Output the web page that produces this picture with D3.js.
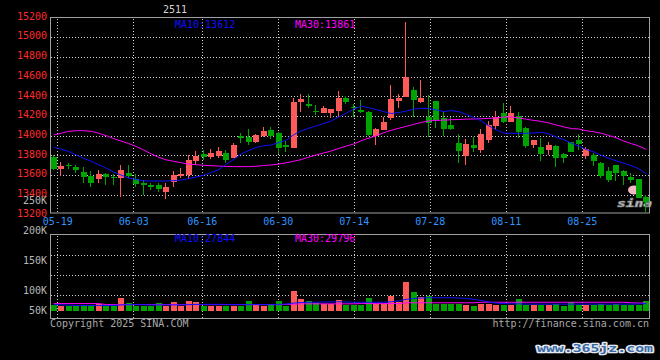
<!DOCTYPE html>
<html>
<head>
<meta charset="utf-8">
<script src="https://cdn.jsdelivr.net/npm/d3@7/dist/d3.min.js"></script>
<style>
body { margin: 0; background: #000; }
svg { display: block; }
text { font-family: "DejaVu Sans Mono", monospace; font-size: 10px; }
</style>
</head>
<body>
<svg id="chart" width="660" height="360"></svg>
<script>
"use strict";

// daily candles, 05-16 .. 09-05
var openP  = [13787,13659,13698,13686,13635,13591,13560,13611,13584,13567,13618,13560,13523,13500,13500,13432,13533,13591,13601,13747,
              13814,13780,13794,13821,13777,13997,13990,13933,14000,14058,14031,13906,13879,14346,14318,14254,14227,14234,14254,14386,
              14295,14261,14237,14000,14058,14183,14352,14396,14464,14339,14193,14352,14176,14109,13926,13797,13906,13855,13956,14100,
              14227,14143,14203,14075,13906,13889,13855,13899,13814,13933,13956,13797,13804,13720,13642,13703,13642,13584,13560,13381];
var highP  = [13804,13736,13726,13702,13686,13642,13652,13625,13611,13703,13703,13611,13550,13523,13517,13517,13645,13669,13804,13845,
              13855,13862,13889,13855,13923,14024,14068,14017,14092,14092,14041,13946,14386,14420,14420,14312,14305,14271,14454,14403,
              14318,14362,14251,14075,14193,14515,14420,15158,14498,14566,14413,14352,14244,14193,14014,13967,13990,14068,14149,14251,
              14329,14302,14237,14092,13956,13980,13939,13906,13821,13939,14014,13889,13821,13736,13686,13703,13652,13618,13560,13398];
var lowP   = [13652,13591,13659,13618,13517,13476,13517,13500,13500,13381,13567,13476,13398,13449,13432,13354,13483,13567,13557,13703,
              13753,13760,13770,13720,13770,13923,13906,13923,13990,13967,13811,13831,13872,14244,14278,14210,14227,14176,14193,14318,
              14193,14227,14000,13906,14058,14159,14285,14396,14193,14329,13990,14075,14000,14058,13720,13703,13838,13821,13923,14058,
              14126,14143,13973,13872,13872,13747,13804,13686,13726,13831,13855,13763,13692,13567,13527,13540,13500,13516,13364,13229];
var closeP = [13662,13696,13694,13652,13584,13517,13611,13577,13567,13652,13594,13510,13496,13476,13459,13476,13601,13611,13753,13794,
              13787,13828,13845,13753,13906,13980,13940,14007,14048,13997,13872,13889,14346,14373,14305,14244,14285,14271,14379,14346,
              14285,14244,14007,14068,14136,14373,14379,14599,14362,14386,14126,14159,14068,14068,13845,13916,13879,14017,14109,14193,
              14143,14227,14041,13899,13956,13814,13906,13777,13770,13838,13916,13865,13743,13594,13550,13625,13594,13550,13371,13324];
var ma10   = [13882,13862,13840,13805,13770,13740,13705,13670,13630,13600,13570,13555,13542,13540,13540,13540,13544,13550,13565,13580,
              13600,13625,13655,13710,13760,13815,13850,13880,13898,13906,13930,13955,14010,14050,14075,14100,14125,14150,14190,14230,
              14270,14300,14285,14265,14245,14225,14235,14250,14270,14278,14275,14262,14245,14254,14245,14215,14185,14150,14100,14060,
              14026,14024,14024,14024,14028,14034,14020,13985,13960,13925,13895,13860,13835,13800,13770,13745,13720,13695,13665,13612];
var ma30   = [14007,14025,14045,14051,14051,14045,14025,14000,13970,13945,13920,13890,13855,13815,13780,13755,13740,13725,13712,13705,
              13700,13695,13692,13688,13686,13686,13686,13690,13697,13703,13712,13725,13740,13758,13782,13805,13825,13845,13870,13895,
              13915,13950,13975,14000,14030,14055,14075,14095,14115,14135,14150,14155,14158,14162,14165,14168,14170,14172,14176,14180,
              14190,14190,14180,14168,14155,14145,14130,14108,14090,14072,14068,14050,14040,14025,14002,13980,13945,13920,13895,13861];

// volume, thousands
var vol    = [22,20,18,18,24,24,26,18,18,48,29,18,18,18,29,18,33,18,37,33,
              18,18,18,18,18,18,37,21,18,25,37,18,74,44,37,30,28,25,40,21,
              21,21,49,28,28,55,34,109,72,53,55,28,28,28,25,21,18,28,28,21,
              21,21,44,21,21,21,21,25,18,34,21,21,21,28,21,28,21,21,21,37];
var vma10  = [24,23,22,21,21,21,21,21,21,23,24,24,24,23,23,23,23,23,24,25,
              25,25,25,25,24,24,24,24,24,24,25,26,30,32,33,33,34,34,35,34,
              33,33,33,33,33,35,38,44,47,49,50,50,50,50,49,47,44,40,34,30,
              28,27,27,26,26,26,26,26,26,26,26,26,26,26,26,26,26,26,27,27.8];
var vma30  = [28,28,28,28,28,28,28,24,24,24,24,24,24,24,24,24,24,24,24,24,
              24,24,24,24,24,24,24,24,24,24,24,25,26,27,27,27,27,27,27,27,
              27,28,28,28,28,28,28,31,31,31,31,31,31,31,31,31,31,33,33,33,
              33,33,33,33,33,33,33,33,33,33,33,33,33,33,33,33,33,31,30,29.8];

var priceTicks = [15200,15000,14800,14600,14400,14200,14000,13800,13600,13400,13200];
var volTicks = [250,200,150,100,50];
var tickIdx = [1,11,20,30,40,50,60,70];
var tickDates = ["05-19","06-03","06-16","06-30","07-14","07-28","08-11","08-25"];

var UP = "#ff5a5a", DOWN = "#00a400", GRID = "#d0d0d0", FRAME = "#a0a0a0";

function crisp(v) {
	return Math.round(v) + 0.5;
}

function drawAxisText(g, color) {
	g.select(".domain").remove();
	g.attr("font-family", "DejaVu Sans Mono, monospace").attr("font-size", 10);
	g.selectAll("text").attr("fill", color);
}

function drawChart() {
	var svg = d3.select("#chart");
	svg.append("rect").attr("width", 660).attr("height", 360).attr("fill", "#000");

	var n = openP.length;
	var xb = d3.scaleBand().domain(d3.range(n)).range([50, 650]).paddingInner(0.25).paddingOuter(0.125);
	var xg = d3.scaleLinear().domain([0, 79]).range([49.7, 650.1]);
	var yp = d3.scaleLinear().domain([13200, 15200]).range([214.5, 17.5]);
	var yv = d3.scaleLinear().domain([0, 300]).range([311, 231.5]);
	var yvLab = d3.scaleLinear().domain([250, 200, 100, 50]).range([200.5, 230.5, 290.5, 310.5]);
	var yvGrid = d3.scaleLinear().domain([0, 4]).range([315, 235]);
	var bw = Math.round(xb.bandwidth());

	// grids
	var grid = svg.append("g").attr("stroke", GRID).attr("stroke-dasharray", "1,2");
	grid.selectAll(".hp").data(priceTicks.slice(1, -1)).enter().append("line")
		.attr("x1", 51).attr("x2", 649).attr("y1", function(d) { return crisp(yp(d)); }).attr("y2", function(d) { return crisp(yp(d)); });
	grid.selectAll(".hv").data([1, 2, 3]).enter().append("line")
		.attr("x1", 51).attr("x2", 649).attr("y1", function(d) { return crisp(yvGrid(d)); }).attr("y2", function(d) { return crisp(yvGrid(d)); });
	grid.selectAll(".vp").data(tickIdx).enter().append("line")
		.attr("x1", function(d) { return crisp(xg(d)); }).attr("x2", function(d) { return crisp(xg(d)); }).attr("y1", 19).attr("y2", 213);
	grid.selectAll(".vv").data(tickIdx).enter().append("line")
		.attr("x1", function(d) { return crisp(xg(d)); }).attr("x2", function(d) { return crisp(xg(d)); }).attr("y1", 236).attr("y2", 320);

	// frames
	svg.append("rect").attr("x", 50.5).attr("y", 17.5).attr("width", 599).attr("height", 195.5)
		.attr("fill", "none").attr("stroke", FRAME);
	svg.append("rect").attr("x", 50.5).attr("y", 234.5).attr("width", 599).attr("height", 84)
		.attr("fill", "none").attr("stroke", FRAME);

	// sina logo under the candles
	svg.append("ellipse").attr("cx", 634).attr("cy", 190).attr("rx", 6).attr("ry", 4.5).attr("fill", "#f4b8c4");
	svg.append("text").attr("x", 617).attr("y", 207).text("sina")
		.attr("font-family", "DejaVu Sans, sans-serif").attr("font-size", 18).attr("font-weight", "bold")
		.attr("font-style", "italic").attr("textLength", 35).attr("lengthAdjust", "spacingAndGlyphs")
		.attr("fill", "#d8d8d8").attr("stroke", "#808080").attr("stroke-width", 0.7);

	// candles
	var candles = svg.append("g").selectAll("g").data(d3.range(n)).enter().append("g")
		.attr("fill", function(i) { return closeP[i] >= openP[i] ? UP : DOWN; })
		.attr("stroke", function(i) { return closeP[i] >= openP[i] ? UP : DOWN; });
	candles.append("line")
		.attr("x1", function(i) { return Math.round(xb(i)) + 2.5; })
		.attr("x2", function(i) { return Math.round(xb(i)) + 2.5; })
		.attr("y1", function(i) { return Math.round(yp(highP[i])); })
		.attr("y2", function(i) { return Math.round(yp(lowP[i])); });
	candles.append("rect").attr("stroke", "none")
		.attr("x", function(i) { return Math.round(xb(i)); })
		.attr("width", bw)
		.attr("y", function(i) { return Math.round(yp(Math.max(openP[i], closeP[i]))); })
		.attr("height", function(i) {
			return Math.max(1, Math.round(yp(Math.min(openP[i], closeP[i]))) - Math.round(yp(Math.max(openP[i], closeP[i]))));
		});

	// volume bars
	svg.append("g").selectAll("rect").data(vol).enter().append("rect")
		.attr("x", function(d, i) { return Math.round(xb(i)); })
		.attr("width", bw)
		.attr("y", function(d) { return Math.round(yv(d)); })
		.attr("height", function(d) { return Math.round(yv(0)) - Math.round(yv(d)); })
		.attr("fill", function(d, i) { return closeP[i] >= openP[i] ? UP : DOWN; });

	// moving averages
	var cx = function(d, i) { return xb(i) + xb.bandwidth() / 2; };
	var lineP = d3.line().x(cx).y(function(d) { return yp(d); });
	var lineV = d3.line().x(cx).y(function(d) { return yv(d); });
	svg.append("path").attr("d", lineP(ma30)).attr("fill", "none").attr("stroke", "#ff00ff");
	svg.append("path").attr("d", lineP(ma10)).attr("fill", "none").attr("stroke", "#1010ff");
	svg.append("path").attr("d", lineV(vma30)).attr("fill", "none").attr("stroke", "#ff00ff");
	svg.append("path").attr("d", lineV(vma10)).attr("fill", "none").attr("stroke", "#1010ff");

	// axes
	var gp = svg.append("g").attr("transform", "translate(47,-1.5)")
		.call(d3.axisLeft(yp).tickValues(priceTicks).tickSize(0).tickPadding(0).tickFormat(d3.format("d")));
	drawAxisText(gp, "#ff2a2a");
	var gv = svg.append("g").attr("transform", "translate(47,0)")
		.call(d3.axisLeft(yvLab).tickValues(volTicks).tickSize(0).tickPadding(0).tickFormat(function(d) { return d + "K"; }));
	drawAxisText(gv, "#b8b8b8");
	var gd = svg.append("g").attr("transform", "translate(0,217.5)")
		.call(d3.axisBottom(xg).tickValues(tickIdx).tickSize(0).tickPadding(0)
			.tickFormat(function(d) { return tickDates[tickIdx.indexOf(d)]; }));
	drawAxisText(gd, "#2f95ff");

	// labels
	svg.append("text").attr("x", 163).attr("y", 13).attr("fill", "#d4d4d4").text("2511");
	svg.append("text").attr("x", 175).attr("y", 27.5).attr("fill", "#1010ff").text("MA10:" + ma10[n - 1]);
	svg.append("text").attr("x", 295).attr("y", 27.5).attr("fill", "#ff00ff").text("MA30:" + ma30[n - 1]);
	svg.append("text").attr("x", 175).attr("y", 242).attr("fill", "#1010ff").text("MA10:27844");
	svg.append("text").attr("x", 295).attr("y", 242).attr("fill", "#ff00ff").text("MA30:29796");
	svg.append("text").attr("x", 50).attr("y", 327).attr("fill", "#a8a8a8").text("Copyright 2025 SINA.COM");
	svg.append("text").attr("x", 649).attr("y", 327).attr("text-anchor", "end").attr("fill", "#a8a8a8")
		.text("http://finance.sina.com.cn");

	svg.append("text").attr("x", 537).attr("y", 352).text("www.365jz.com")
		.attr("font-family", "Liberation Sans, sans-serif").attr("font-size", 19).attr("font-weight", "bold")
		.attr("textLength", 116).attr("lengthAdjust", "spacingAndGlyphs")
		.attr("fill", "#3a6aa4").attr("stroke", "#e4e8f0").attr("stroke-width", 2.5)
		.attr("paint-order", "stroke").attr("stroke-linejoin", "round");
}

drawChart();
</script>
</body>
</html>
